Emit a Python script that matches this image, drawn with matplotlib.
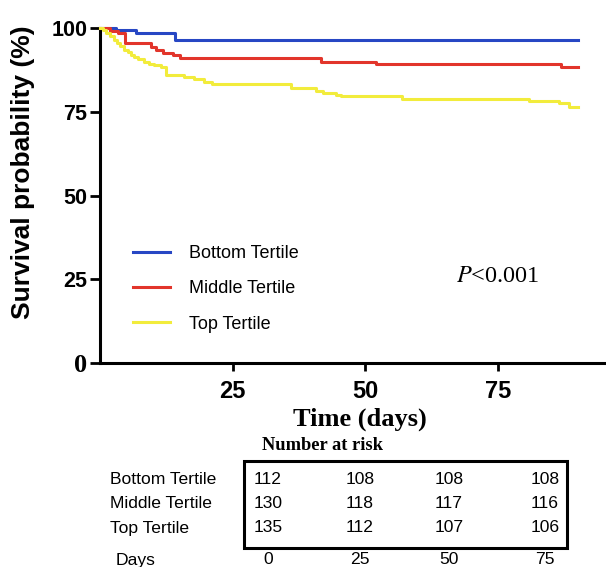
import matplotlib.pyplot as plt
from matplotlib.patches import Rectangle

plt.rcParams['font.family'] = 'Liberation Sans'
plt.rcParams['mathtext.fontset'] = 'stix'

# Kaplan-Meier step values (days, survival %)
bottom_t = [0, 3.0, 6.8, 14.2, 90]
bottom_s = [100, 99.3, 98.4, 96.5, 96.5]

middle_t = [0, 1.9, 3.4, 4.7, 9.6, 10.6, 11.9, 13.8, 15.1, 41.7, 51.9, 86.8, 90]
middle_s = [100, 99.2, 98.4, 95.4, 94.4, 93.4, 92.6, 91.9, 90.9, 89.9, 89.4, 88.4, 88.4]

top_t = [0, 0.6, 1.2, 1.8, 2.6, 3.2, 3.8, 4.5, 5.2, 5.8, 6.4, 7.2, 8.3, 9.2, 10.2,
         11.5, 12.5, 15.8, 17.7, 19.6, 21.0, 36.0, 40.6, 42.0, 44.5, 45.4, 56.8,
         80.8, 86.4, 88.3, 90]
top_s = [100, 99.3, 98.5, 97.5, 96.4, 95.6, 94.7, 93.4, 92.7, 92.0, 91.4, 90.7, 89.9,
         89.3, 88.9, 88.4, 86.0, 85.5, 84.7, 84.0, 83.3, 82.0, 81.3, 80.5, 80.0, 79.7,
         78.7, 78.2, 77.5, 76.3, 76.3]

groups = ['Bottom Tertile', 'Middle Tertile', 'Top Tertile']
colors = ['#2747c4', '#e2352b', '#f2ec3c']

risk_days = [0, 25, 50, 75]
risk_bottom = [112, 108, 108, 108]
risk_middle = [130, 118, 117, 116]
risk_top = [135, 112, 107, 106]

W, H = 606, 567
fig = plt.figure(figsize=(W / 100, H / 100), dpi=100)
ax = fig.add_axes([100 / W, 1 - 363 / H, (W - 100) / W, (363 - 28) / H])

for t, s, c, g in zip([bottom_t, middle_t, top_t], [bottom_s, middle_s, top_s], colors, groups):
    ax.step(t, s, where='post', color=c, lw=2.2, label=g, clip_on=False, zorder=3)

ax.set_xlim(0, 95.3)
ax.set_ylim(0, 100)
ax.spines['top'].set_visible(False)
ax.spines['right'].set_visible(False)
ax.spines['left'].set_linewidth(2.2)
ax.spines['bottom'].set_linewidth(2.2)

ax.set_xticks([25, 50, 75])
ax.set_yticks([0, 25, 50, 75, 100])
ax.tick_params(axis='both', direction='out', width=2)
ax.tick_params(axis='y', length=7, labelsize=15.5, pad=2)
ax.tick_params(axis='x', length=6, labelsize=17, pad=6)
for lab in ax.get_xticklabels() + ax.get_yticklabels():
    lab.set_fontweight('bold')
ax.get_yticklabels()[0].set_fontfamily('Liberation Serif')
ax.get_yticklabels()[0].set_fontsize(19)
ax.get_yticklabels()[0].set_y(-1)

leg = ax.legend(loc='center left', bbox_to_anchor=(0.066, 0.221), frameon=False,
                fontsize=13, handlelength=2.0, handletextpad=1.1, labelspacing=1.0,
                borderpad=0, borderaxespad=0)

ax.text(67.0, 25.7, r'$\mathit{P}$<0.001', fontsize=17.5, family='Liberation Serif',
        ha='left', va='center')

fig.text(23 / W, 1 - 172 / H, 'Survival probability (%)', rotation=90, ha='center',
         va='center', fontsize=19, fontweight='bold')
fig.text(360 / W, 1 - 419 / H, 'Time (days)', ha='center', va='center', fontsize=19,
         fontweight='bold', family='Liberation Serif')
fig.text(323 / W, 1 - 446 / H, 'Number at risk', ha='center', va='center', fontsize=13.3,
         fontweight='bold', family='Liberation Serif')

# number-at-risk table
fig.patches.append(Rectangle((244 / W, 1 - 548 / H), (567 - 244) / W, (548 - 461) / H,
                             transform=fig.transFigure, fill=False, lw=2.2, ec='black'))
col_x = [268, 360, 449, 545]
row_y = [480, 504, 528]
for y, g, vals in zip(row_y, groups, [risk_bottom, risk_middle, risk_top]):
    fig.text(110 / W, 1 - y / H, g, ha='left', va='center', fontsize=12.6)
    for x, v in zip(col_x, vals):
        fig.text(x / W, 1 - y / H, str(v), ha='center', va='center', fontsize=12.6)
fig.text(116 / W, 1 - 560 / H, 'Days', ha='left', va='center', fontsize=12.6)
for x, d in zip(col_x, risk_days):
    fig.text(x / W, 1 - 560 / H, str(d), ha='center', va='center', fontsize=12.6)

fig.savefig('out.png', dpi=100)
